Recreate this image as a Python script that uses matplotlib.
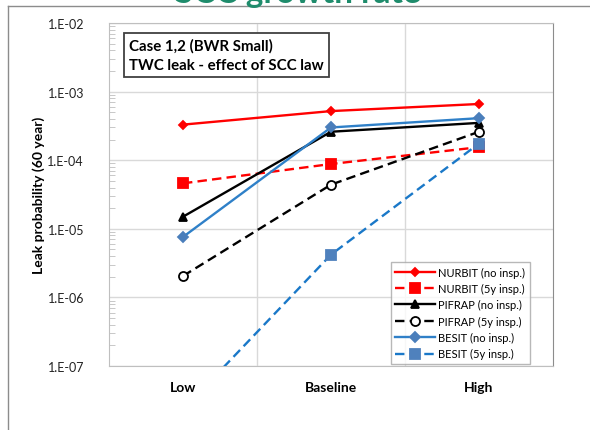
import matplotlib.pyplot as plt
from matplotlib.lines import Line2D
from matplotlib.ticker import LogLocator, FixedLocator

plt.rcParams['font.family'] = ['Lato', 'DejaVu Sans']

categorias = ['Low', 'Baseline', 'High']

nurbit_sem = [3.3e-4, 5.2e-4, 6.6e-4]
nurbit_5y = [4.6e-5, 8.8e-5, 1.55e-4]
pifrap_sem = [1.5e-5, 2.6e-4, 3.5e-4]
pifrap_5y = [2.05e-6, 4.4e-5, 2.6e-4]
besit_sem = [7.6e-6, 3.0e-4, 4.1e-4]
besit_5y = [2.3e-8, 4.2e-6, 1.75e-4]

tracejado = (0, (4, 2.2))
series = [
    ('NURBIT (no insp.)', nurbit_sem, '#ff0000', '-', 'D', 4.5, '#ff0000', '#ff0000'),
    ('NURBIT (5y insp.)', nurbit_5y, '#ff0000', tracejado, 's', 6.5, '#ff0000', '#ff0000'),
    ('PIFRAP (no insp.)', pifrap_sem, '#000000', '-', '^', 6, '#000000', '#000000'),
    ('PIFRAP (5y insp.)', pifrap_5y, '#000000', tracejado, 'o', 6.5, 'white', '#000000'),
    ('BESIT (no insp.)', besit_sem, '#2f80c8', '-', 'D', 5, '#4a7ebb', '#4a7ebb'),
    ('BESIT (5y insp.)', besit_5y, '#1a78c8', tracejado, 's', 6.5, '#4f81bd', '#4f81bd'),
]

fig = plt.figure(figsize=(5.9, 4.31), dpi=100)
ax = fig.add_axes([0.1847, 0.1485, 0.7526, 0.7958])

x = [1, 2, 3]
for nome, vals, cor, estilo, marc, tam, face, borda in series:
    ax.plot(x, vals, color=cor, linestyle=estilo, linewidth=1.7, marker=marc,
            markersize=tam, markerfacecolor=face, markeredgecolor=borda,
            markeredgewidth=1.3, label=nome, zorder=3)

ax.set_yscale('log')
ax.set_ylim(1e-7, 1e-2)
ax.set_xlim(0.5, 3.5)
ax.yaxis.set_minor_locator(LogLocator(base=10, subs=range(2, 10), numticks=10))
ax.set_yticks([1e-7, 1e-6, 1e-5, 1e-4, 1e-3, 1e-2])
ax.set_yticklabels(['1.E-07', '1.E-06', '1.E-05', '1.E-04', '1.E-03', '1.E-02'],
                   fontsize=9, color='#222222')
ax.set_xticks(x)
ax.set_xticklabels(categorias, fontsize=10, fontweight='bold')
ax.xaxis.set_minor_locator(FixedLocator([1.5, 2.5]))
ax.tick_params(axis='x', which='both', length=0, pad=11)
ax.tick_params(axis='y', which='major', length=0, pad=18)
ax.tick_params(axis='y', which='minor', direction='in', length=4, color='#bfbfbf')
ax.grid(True, which='major', axis='y', color='#d9d9d9', linewidth=1)
ax.grid(True, which='minor', axis='x', color='#d9d9d9', linewidth=1)
ax.set_axisbelow(True)
for lado in ['left', 'bottom', 'top']:
    ax.spines[lado].set_color('#bfbfbf')
ax.spines['right'].set_color('#8c8c8c')

ax.set_ylabel('Leak probability (60 year)', fontsize=10, fontweight='bold', labelpad=2)

ax.text(0.045, 0.955, 'Case 1,2 (BWR Small)\nTWC leak - effect of SCC law',
        transform=ax.transAxes, fontsize=10.8, fontweight='bold', va='top', ha='left',
        linespacing=1.45,
        bbox=dict(boxstyle='square,pad=0.35', facecolor='white', edgecolor='#404040',
                  linewidth=1.3))

leg = ax.legend(loc='lower right', bbox_to_anchor=(0.948, 0.006), fontsize=8,
                frameon=True, fancybox=False, handlelength=3.6, handletextpad=0.3,
                borderpad=0.4, labelspacing=0.48, borderaxespad=0)
leg.get_frame().set_edgecolor('#a6a6a6')
leg.get_frame().set_linewidth(1)

# moldura do slide e título cortado
fig.add_artist(Line2D([8 / 590, 1], [1 - 7 / 431, 1 - 7 / 431], color='#8c8c8c', linewidth=1))
fig.add_artist(Line2D([8 / 590, 8 / 590], [0, 1 - 7 / 431], color='#8c8c8c', linewidth=1))
fig.text(0.505, 1 - 3 / 431, 'SCC growth rate', fontsize=24, fontweight='bold',
         color='#1f8c6c', ha='center', va='baseline')

plt.savefig('out.png', dpi=100)
